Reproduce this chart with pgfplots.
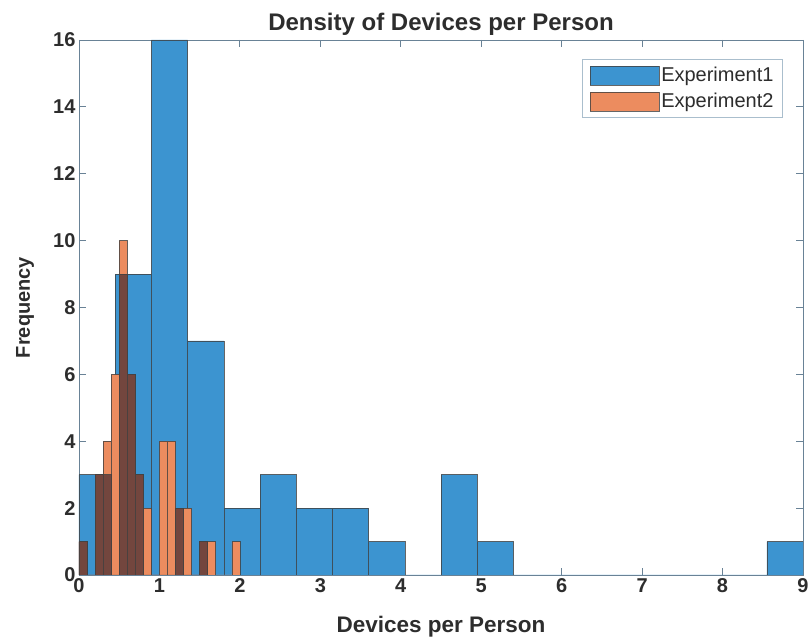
\documentclass[border=0pt]{standalone}
\usepackage{pgfplots}
\pgfplotsset{compat=1.18}
\usepackage{fontspec}
\setmainfont{Liberation Sans}

\definecolor{axiscol}{RGB}{105,130,150}
\definecolor{txt}{RGB}{45,45,45}
\definecolor{expblue}{RGB}{60,148,208}
\definecolor{exporange}{RGB}{236,140,95}
\definecolor{expdark}{RGB}{115,70,62}
\definecolor{legcol}{RGB}{170,190,205}

\pgfplotsset{
  histbar/.style={
    ybar interval,
    draw=black!75, draw opacity=0.8, line width=0.6pt,
    legend image code/.code={\draw[##1] (0pt,-9.5pt) rectangle (69pt,9.5pt);},
  },
}

\begin{document}
\begin{tikzpicture}
\useasboundingbox (0,0) rectangle (809pt,640pt);
\begin{axis}[
  at={(79pt,65pt)}, anchor=south west,
  scale only axis, width=724pt, height=535pt,
  xmin=0, xmax=9, ymin=0, ymax=16,
  xtick={0,1,...,9}, ytick={0,2,...,16},
  tick align=inside, major tick length=7pt,
  axis line style={draw=axiscol, line width=0.8pt},
  every tick/.style={draw=axiscol, line width=0.8pt},
  /pgf/number format/assume math mode=true,
  ticklabel style={font=\bfseries\fontsize{20}{20}\selectfont, text=txt},
  title={Density of Devices per Person},
  title style={at={(axis description cs:0.5,1.0187)}, anchor=center,
    font=\bfseries\fontsize{24}{24}\selectfont, text=txt},
  xlabel={Devices per Person},
  xlabel style={at={(axis description cs:0.5,-0.096)}, anchor=center,
    font=\bfseries\fontsize{22.5}{22.5}\selectfont, text=txt},
  ylabel={Frequency},
  ylabel style={at={(axis description cs:-0.0746,0.5)}, anchor=center, rotate=0,
    font=\bfseries\fontsize{20}{20}\selectfont, text=txt},
  legend style={at={(0.972,0.964)}, anchor=north east, draw=legcol,
    font=\fontsize{20}{20}\selectfont, text=txt,
    inner xsep=7pt, inner ysep=6pt, row sep=6pt},
  legend cell align=left,
]
% Experiment 1, bin width 0.45
\addplot[histbar, fill=expblue] coordinates {
  (0,3) (0.45,9) (0.9,16) (1.35,7) (1.8,2) (2.25,3) (2.7,2) (3.15,2)
  (3.6,1) (4.05,0) (4.5,3) (4.95,1) (5.4,0) (5.85,0) (6.3,0) (6.75,0)
  (7.2,0) (7.65,0) (8.1,0) (8.55,1) (9.0,0)
};
\addlegendentry{Experiment1}
% Experiment 2, bin width 0.1
\addplot[histbar, fill=exporange] coordinates {
  (0,1) (0.1,0) (0.2,3) (0.3,4) (0.4,6) (0.5,10) (0.6,6) (0.7,3)
  (0.8,2) (0.9,0) (1.0,4) (1.1,4) (1.2,2) (1.3,2) (1.4,0) (1.5,1)
  (1.6,1) (1.7,0) (1.8,0) (1.9,1) (2.0,0)
};
\addlegendentry{Experiment2}
% darker overlap shading seen in the figure
\addplot[histbar, fill=expdark, forget plot] coordinates {
  (0,1) (0.1,0) (0.2,3) (0.3,3) (0.4,0) (0.5,9) (0.6,6) (0.7,3)
  (0.8,0) (0.9,0) (1.0,0) (1.1,0) (1.2,2) (1.3,0) (1.4,0) (1.5,1)
  (1.6,0)
};
\end{axis}
\end{tikzpicture}
\end{document}
